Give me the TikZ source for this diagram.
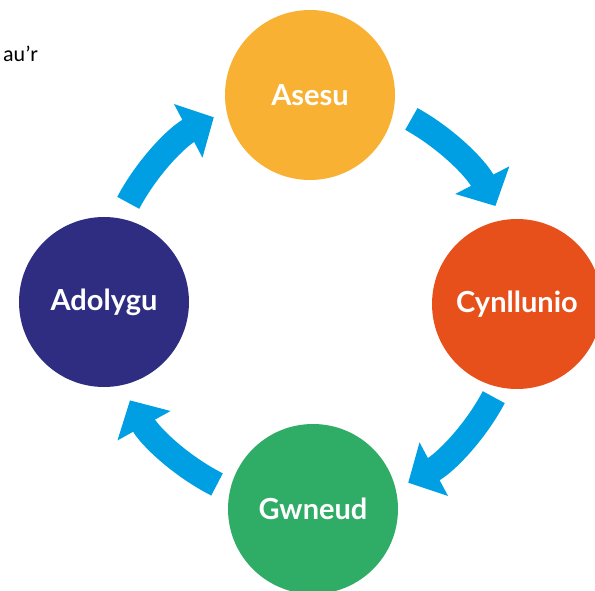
\documentclass[tikz,border=0pt]{standalone}
\usepackage{fontspec}
\setmainfont{Carlito}
\newfontfamily\stagefont{Lato}
\usetikzlibrary{arrows.meta,positioning}
\definecolor{asesucol}{HTML}{F8B133}
\definecolor{cynllcol}{HTML}{E8501B}
\definecolor{gwneudcol}{HTML}{2FAC66}
\definecolor{adolcol}{HTML}{2E2D82}
\definecolor{arrowcol}{HTML}{009FE3}
\tikzstyle{stage}=[circle,minimum size=170pt,inner sep=0pt,text=white,font=\stagefont\bfseries\fontsize{29}{29}\selectfont]
\tikzstyle{cyclearrow}=[line width=25pt,draw=arrowcol,-{Triangle[width=59pt,length=29pt]}]

\begin{document}
\begin{tikzpicture}[x=1pt,y=1pt]
\useasboundingbox (0,0) rectangle (595,590);
\coordinate (hub) at (311,290);
\node[stage,fill=asesucol] (asesu) at (310,495) {Asesu};
\node[stage,fill=cynllcol] (cynllunio) at (517,286) {Cynllunio};
\node[stage,fill=gwneudcol] (gwneud) at (313,81) {Gwneud};
\node[stage,fill=adolcol] (adolygu) at (104,288) {Adolygu};
\node[anchor=base west,inner sep=0pt,font=\fontsize{22}{22}\selectfont] (heading) at (3,528) {au’r};

% arrows round the hub
\foreach \s/\e in {61/27,-28/-62,-117/-151,152/118}{
	\draw[cyclearrow] ([shift={(\s:207)}]hub) arc[start angle=\s,end angle=\e,radius=207];
}
\end{tikzpicture}
\end{document}
